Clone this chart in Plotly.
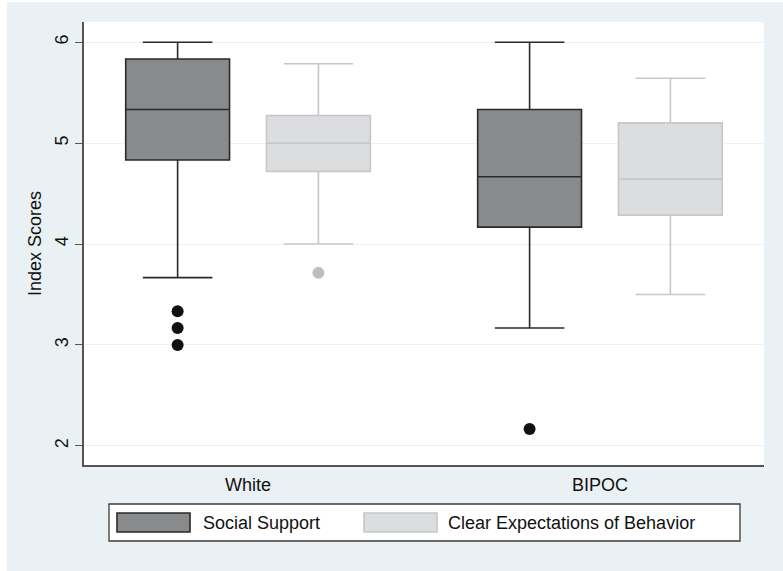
import plotly.graph_objects as go

# ---- data ----
groups = ["White", "BIPOC"]
series_names = ["Social Support", "Clear Expectations of Behavior"]

social_lower = [3.667, 3.167]
social_q1 = [4.833, 4.167]
social_median = [5.333, 4.667]
social_q3 = [5.833, 5.333]
social_upper = [6.0, 6.0]
social_outliers = [[3.333, 3.167, 3.0], [2.167]]

clear_lower = [4.0, 3.5]
clear_q1 = [4.72, 4.286]
clear_median = [5.0, 4.643]
clear_q3 = [5.273, 5.2]
clear_upper = [5.786, 5.643]
clear_outliers = [[3.714], []]

y_ticks = [2, 3, 4, 5, 6]

# ---- styling ----
W, H = 783, 571
L, R, T, B = 84, 19, 22, 106
PW, PH = W - L - R, H - T - B
BG = "#E9F1F4"
FONT = "Liberation Sans, Arial, sans-serif"
FS = 18

dark_fill, dark_line, dark_pt = "#898A8B", "#2A2A2A", "#111111"
light_fill, light_line, light_pt = "#DCDDDF", "#C6C7C9", "#BEBEBE"

offset = 0.2
bw = 0.295

def px_x(p):
    return (p - L) / PW

def px_y(p):
    return (H - B - p) / PH

fig = go.Figure()

specs = [
    (series_names[0], social_lower, social_q1, social_median, social_q3, social_upper,
     social_outliers, -offset, dark_fill, dark_line, dark_pt),
    (series_names[1], clear_lower, clear_q1, clear_median, clear_q3, clear_upper,
     clear_outliers, offset, light_fill, light_line, light_pt),
]

for name, lo, q1, med, q3, up, outs, off, fc, lc, pc in specs:
    xs = [i + off for i in range(len(groups))]
    fig.add_trace(go.Box(
        name=name, x=xs, lowerfence=lo, q1=q1, median=med, q3=q3, upperfence=up,
        width=bw, whiskerwidth=0.67, fillcolor=fc,
        line=dict(color=lc, width=1.6), boxpoints=False, showlegend=False,
        hoverinfo="skip",
    ))
    ox, oy = [], []
    for i, vals in enumerate(outs):
        for v in vals:
            ox.append(i + off)
            oy.append(v)
    fig.add_trace(go.Scatter(
        x=ox, y=oy, mode="markers", showlegend=False,
        marker=dict(color=pc, size=12, line=dict(width=0)), hoverinfo="skip",
    ))

shapes = []
# thin white strips at top and left edges of the image
shapes.append(dict(type="rect", xref="paper", yref="paper", layer="below",
                   x0=px_x(-5), x1=px_x(W + 5), y0=px_y(2), y1=px_y(-5),
                   fillcolor="white", line=dict(width=0)))
shapes.append(dict(type="rect", xref="paper", yref="paper", layer="below",
                   x0=px_x(-5), x1=px_x(7), y0=px_y(H + 5), y1=px_y(-5),
                   fillcolor="white", line=dict(width=0)))
# plot region white
shapes.append(dict(type="rect", xref="paper", yref="paper", layer="below",
                   x0=0, x1=1, y0=0, y1=1, fillcolor="white", line=dict(width=0)))
# legend frame
shapes.append(dict(type="rect", xref="paper", yref="paper",
                   x0=px_x(109), x1=px_x(740), y0=px_y(541), y1=px_y(504),
                   fillcolor="white", line=dict(color="#3A3A3A", width=1.3)))
# legend swatches
shapes.append(dict(type="rect", xref="paper", yref="paper",
                   x0=px_x(117), x1=px_x(190), y0=px_y(532), y1=px_y(513),
                   fillcolor=dark_fill, line=dict(color=dark_line, width=1.6)))
shapes.append(dict(type="rect", xref="paper", yref="paper",
                   x0=px_x(364), x1=px_x(437), y0=px_y(532), y1=px_y(513),
                   fillcolor=light_fill, line=dict(color=light_line, width=1.6)))

annotations = [
    dict(text=series_names[0], xref="paper", yref="paper", x=px_x(201), y=px_y(522.5),
         xanchor="left", yanchor="middle", showarrow=False,
         font=dict(family=FONT, size=FS, color="#111")),
    dict(text=series_names[1], xref="paper", yref="paper", x=px_x(446), y=px_y(522.5),
         xanchor="left", yanchor="middle", showarrow=False,
         font=dict(family=FONT, size=FS, color="#111")),
]

fig.update_layout(
    width=W, height=H,
    margin=dict(l=L, r=R, t=T, b=B),
    paper_bgcolor=BG, plot_bgcolor="rgba(0,0,0,0)",
    font=dict(family=FONT, size=FS, color="#111"),
    shapes=shapes, annotations=annotations,
    showlegend=False,
)

fig.update_xaxes(
    range=[-0.466, 1.466], tickvals=list(range(len(groups))), ticktext=groups,
    ticks="", showgrid=False, zeroline=False,
    showline=True, linecolor="#555555", linewidth=1.5,
    tickfont=dict(family=FONT, size=FS, color="#111"),
    ticklabelstandoff=3,
)

fig.update_yaxes(
    range=[1.81, 6.2], tickvals=y_ticks, tickangle=-90,
    ticks="outside", ticklen=7, tickcolor="#555555", tickwidth=1.2,
    showgrid=True, gridcolor="#EDF1F3", gridwidth=1, zeroline=False,
    showline=True, linecolor="#555555", linewidth=1.5,
    tickfont=dict(family=FONT, size=FS, color="#111"),
    title=dict(text="Index Scores", font=dict(family=FONT, size=FS, color="#111"), standoff=6),
)

fig.write_html("out.html", config={"displayModeBar": False},
               post_script="document.body.style.margin='0';")
